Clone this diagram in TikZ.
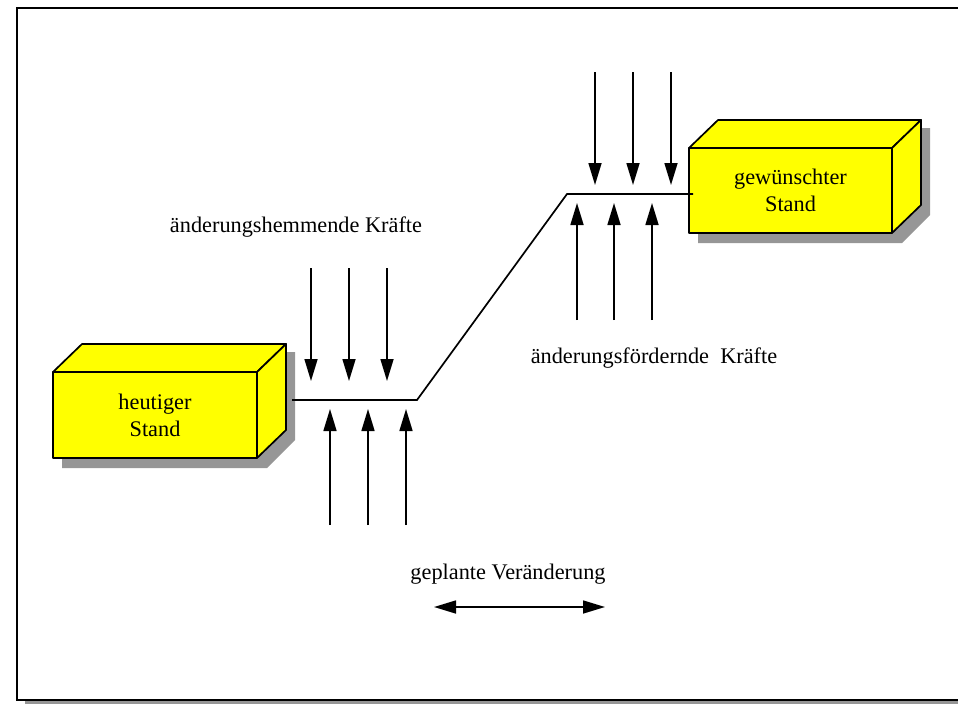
\documentclass[tikz,border=0pt]{standalone}
\usepackage{fontspec}
\setmainfont{Liberation Serif}
\usetikzlibrary{arrows.meta}
\definecolor{boxyellow}{RGB}{255,255,0}
\definecolor{shadowgray}{RGB}{150,150,150}
\tikzset{
  force/.style={line width=1.6pt, -{Triangle[width=13pt,length=22pt]}},
  link/.style={line width=1.7pt},
  label/.style={font=\fontsize{22.3}{27}\selectfont, align=center, inner sep=0pt},
  face/.style={fill=boxyellow, draw=black, line width=1.7pt, line join=round},
}
% a 3-D block: front face from (#1,#2) to (#3,#4), depth offset (29,-28)
\newcommand{\yblock}[5]{%
  \fill[shadowgray] (#1+9,#4) -- (#1+9,#4+10) -- (#3+10,#4+10) -- (#3+38,#4-18)
        -- (#3+38,#2-20) -- (#3+29,#2-20) -- cycle;
  \draw[face] (#1,#2) -- (#1+29,#2-28) -- (#3+29,#2-28) -- (#3,#2) -- cycle;
  \draw[face] (#3,#2) -- (#3+29,#2-28) -- (#3+29,#4-28) -- (#3,#4) -- cycle;
  \draw[face] (#1,#2) rectangle (#3,#4);
  \node[label] (#5) at ({(#1+#3)/2},{(#2+#4)/2}) {};
}
\begin{document}
\begin{tikzpicture}[x=1pt,y=-1pt]
\useasboundingbox (0,0) rectangle (958,704);
% page frame with drop shadow
\fill[shadowgray] (25,700) rectangle (958,704);
\draw[line width=2pt] (970,7.5) -- (16.5,7.5) -- (16.5,699.5) -- (970,699.5);

% blocks
\yblock{53}{372}{257}{458}{heute}
\yblock{689}{148}{892}{233}{ziel}
\node[label] at (heute) {heutiger\\Stand};
\node[label] at (ziel) {gewünschter\\Stand};

% path of the change
\coordinate (a1) at (292,400);
\coordinate (a2) at (417,400);
\coordinate (b1) at (567,194);
\coordinate (b2) at (693,194);
\draw[link] (a1) -- (a2) -- (b1) -- (b2);

% restraining forces (downwards)
\foreach \x [count=\i] in {311,349,387} {
  \coordinate (hs\i) at (\x,268); \coordinate (he\i) at (\x,381);
  \draw[force] (hs\i) -- (he\i);
}
\foreach \x [count=\i] in {595,633,671} {
  \coordinate (gs\i) at (\x,72); \coordinate (ge\i) at (\x,185);
  \draw[force] (gs\i) -- (ge\i);
}
% driving forces (upwards)
\foreach \x [count=\i] in {330,368,406} {
  \coordinate (fs\i) at (\x,525); \coordinate (fe\i) at (\x,409);
  \draw[force] (fs\i) -- (fe\i);
}
\foreach \x [count=\i] in {577,614,652} {
  \coordinate (ks\i) at (\x,320); \coordinate (ke\i) at (\x,203);
  \draw[force] (ks\i) -- (ke\i);
}

% labels
\node[label] (hemm) at (296,227) {änderungshemmende Kräfte};
\node[label] (foerd) at (654,358) {änderungsfördernde\ \ Kräfte};
\node[label] (plan) at (508,574) {geplante Veränderung};

% planned change
\coordinate (pl) at (434,607);
\coordinate (pr) at (605,607);
\draw[line width=1.6pt, {Triangle[width=13pt,length=22pt]}-{Triangle[width=13pt,length=22pt]}] (pl) -- (pr);
\end{tikzpicture}
\end{document}
